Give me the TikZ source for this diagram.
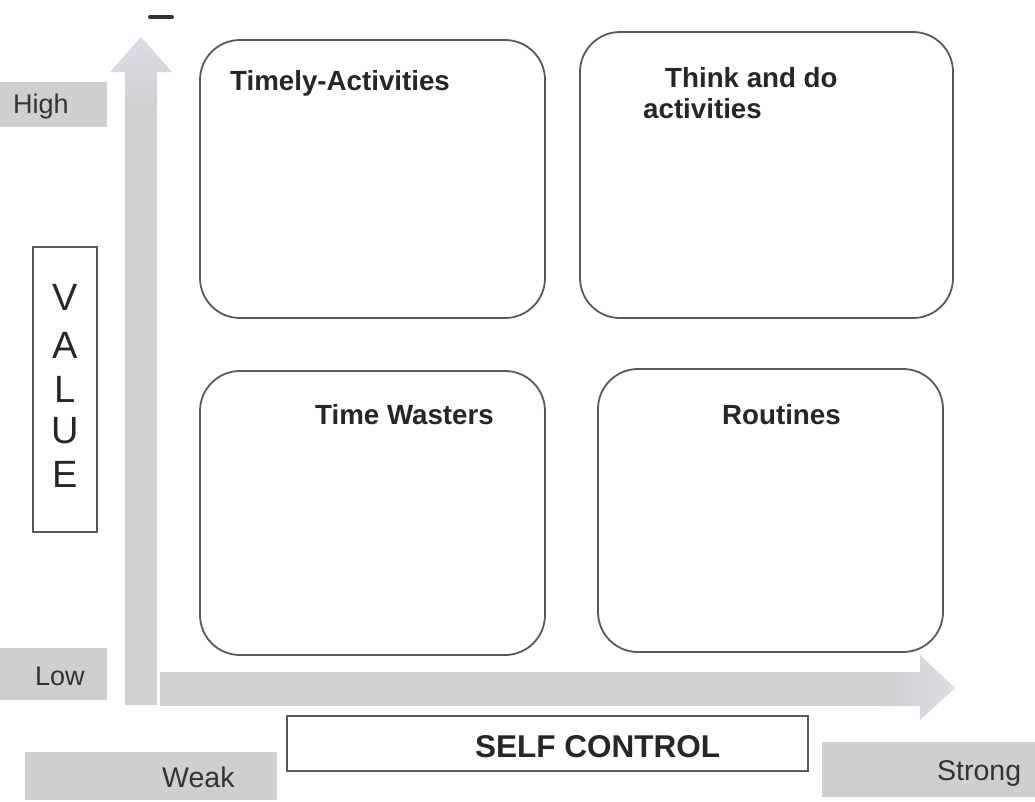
\documentclass[tikz,border=0pt]{standalone}
\usepackage{fontspec}
\setmainfont{Liberation Sans}
\definecolor{lav}{RGB}{220,220,232}
\definecolor{arrgray}{RGB}{208,208,208}
\begin{document}
\begin{tikzpicture}[x=1pt,y=-1pt,
  quad/.style={draw=black!65,line width=1.8pt,rounded corners=40pt,inner sep=0pt},
  qlabel/.style={font=\fontsize{27.7}{31}\selectfont\bfseries,text=black!85,inner sep=0pt,anchor=base west},
  band/.style={fill=black!19,draw=none},
  blabel/.style={font=\fontsize{27}{30}\selectfont,text=black!80,inner sep=0pt,anchor=base west},
  vletter/.style={font=\fontsize{38}{40}\selectfont,text=black!85,inner sep=0pt,anchor=base},
  framebox/.style={draw=black!65,line width=1.5pt,inner sep=0pt}]
\useasboundingbox (0,0) rectangle (1035,801);
\fill[white] (0,0) rectangle (1035,801);
% small mark at top
\draw[line width=4pt,line cap=round,black!80] (150,17) -- (172,17);
% vertical arrow
\fill[arrgray] (125,705) rectangle (157,100);
\shade[top color=lav,bottom color=arrgray]
  (125,112) -- (125,72) -- (110,72) -- (141,37) -- (172,72) -- (157,72) -- (157,112) -- cycle;
% horizontal arrow
\fill[arrgray] (160,672) rectangle (885,706);
\shade[left color=arrgray,right color=lav]
  (880,672) -- (920,672) -- (920,655) -- (955,688) -- (920,720) -- (920,706) -- (880,706) -- cycle;
% label bands
\fill[band] (0,82) rectangle (107,127);
\fill[band] (0,648) rectangle (107,700);
\fill[band] (25,752) rectangle (277,800);
\fill[band] (822,742) rectangle (1035,797);
\node[blabel] (high) at (13,113) {High};
\node[blabel] (low) at (35,685) {Low};
\node[blabel,font=\fontsize{28.5}{30}\selectfont] (weak) at (162,787) {Weak};
\node[blabel,font=\fontsize{28.5}{30}\selectfont] (strong) at (937,780) {Strong};
% VALUE box
\node[framebox,minimum width=64pt,minimum height=285pt] (valuebox) at (65,389.5) {};
\node[vletter] (v1) at (65,310) {V};
\node[vletter] (v2) at (65,358) {A};
\node[vletter] (v3) at (65,402) {L};
\node[vletter] (v4) at (65,443) {U};
\node[vletter] (v5) at (65,487) {E};
% SELF CONTROL
\node[framebox,minimum width=521pt,minimum height=55pt] (scbox) at (547.5,743.5) {};
\node[qlabel,font=\fontsize{31.5}{34}\selectfont\bfseries] (sc) at (475,757) {SELF CONTROL};
% quadrants
\node[quad,minimum width=345pt,minimum height=278pt] (tl) at (372.5,179) {};
\node[quad,minimum width=373pt,minimum height=286pt] (tr) at (766.5,175) {};
\node[quad,minimum width=345pt,minimum height=284pt] (bl) at (372.5,513) {};
\node[quad,minimum width=345pt,minimum height=283pt] (br) at (770.5,510.5) {};
\node[qlabel] (tlt) at (230,90) {Timely-Activities};
\node[qlabel] (trt1) at (665,87) {Think and do};
\node[qlabel] (trt2) at (643,118) {activities};
\node[qlabel] (blt) at (315,424) {Time Wasters};
\node[qlabel] (brt) at (722,424) {Routines};
\end{tikzpicture}
\end{document}
